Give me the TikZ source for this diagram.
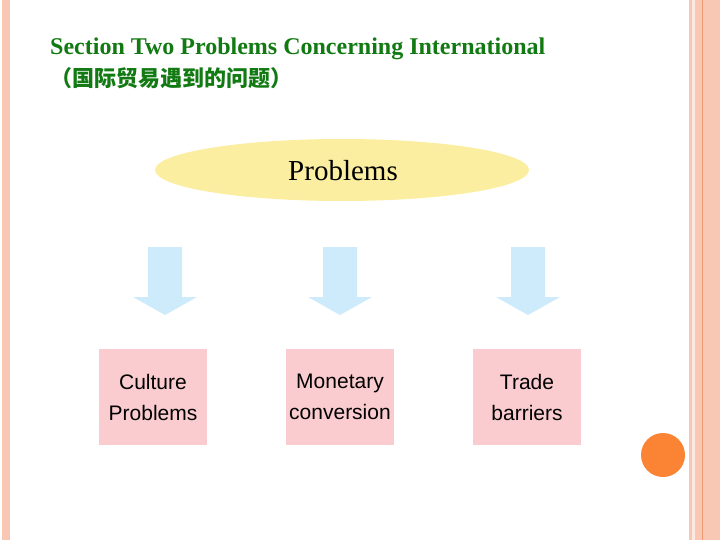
\documentclass[tikz,border=0pt]{standalone}
\usetikzlibrary{shapes.geometric}
\usepackage{fontspec}
\setmainfont{Liberation Serif}
\newfontfamily\arialf{Liberation Sans}
\newfontfamily\cjk{Noto Sans CJK SC}
\definecolor{pinkbd}{HTML}{F8C8B4}
\definecolor{orline}{HTML}{EE9A70}
\definecolor{ttl}{HTML}{127A12}
\definecolor{ellf}{HTML}{FBEEA0}
\definecolor{arrf}{HTML}{CDEBFB}
\definecolor{boxf}{HTML}{FACCD0}
\definecolor{dot}{HTML}{FB8434}
\tikzset{
 pbox/.style={fill=boxf,draw=none,minimum width=108pt,minimum height=96pt,font=\arialf\fontsize{21}{31}\selectfont,align=center,inner sep=0pt},
 barrow/.style={fill=arrf,draw=none}
}
\begin{document}
\begin{tikzpicture}[x=1pt,y=-1pt]
\useasboundingbox (0,0) rectangle (720,540);
\fill[white] (0,0) rectangle (720,540);
\fill[pinkbd] (2,0) rectangle (10,540);
\fill[pinkbd] (689,0) rectangle (720,540);
\fill[white!60!pinkbd] (692,0) rectangle (695,540);
\draw[orline,line width=1pt] (702,0) -- (702,540);
\node[circle,fill=dot,minimum size=44pt,inner sep=0pt] (dotc) at (663,455) {};
\node[anchor=north west,text=ttl,font=\bfseries\fontsize{24}{32}\selectfont,align=left,inner sep=0pt] (title) at (50,38) {Section Two Problems Concerning International\\{\cjk\fontsize{22}{32}\selectfont （国际贸易遇到的问题）}};
\node[ellipse,fill=ellf,minimum width=374pt,minimum height=62pt,inner sep=0pt] (prob) at (342,170) {};
\node[font=\fontsize{29}{32}\selectfont] (probt) at (343,171) {Problems};
\foreach \n/\x in {a/165,b/340,c/528}{
 \fill[barrow] (\x-17,247) -- (\x+17,247) -- (\x+17,297) -- (\x+32,297) -- (\x,315) -- (\x-32,297) -- (\x-17,297) -- cycle;
 \coordinate (arr\n) at (\x,315);
}
\node[pbox] (cult) at (153,397) {Culture\\Problems};
\node[pbox] (mone) at (340,397) {Monetary\\conversion};
\node[pbox] (trad) at (527,397) {Trade\\barriers};
\end{tikzpicture}
\end{document}
